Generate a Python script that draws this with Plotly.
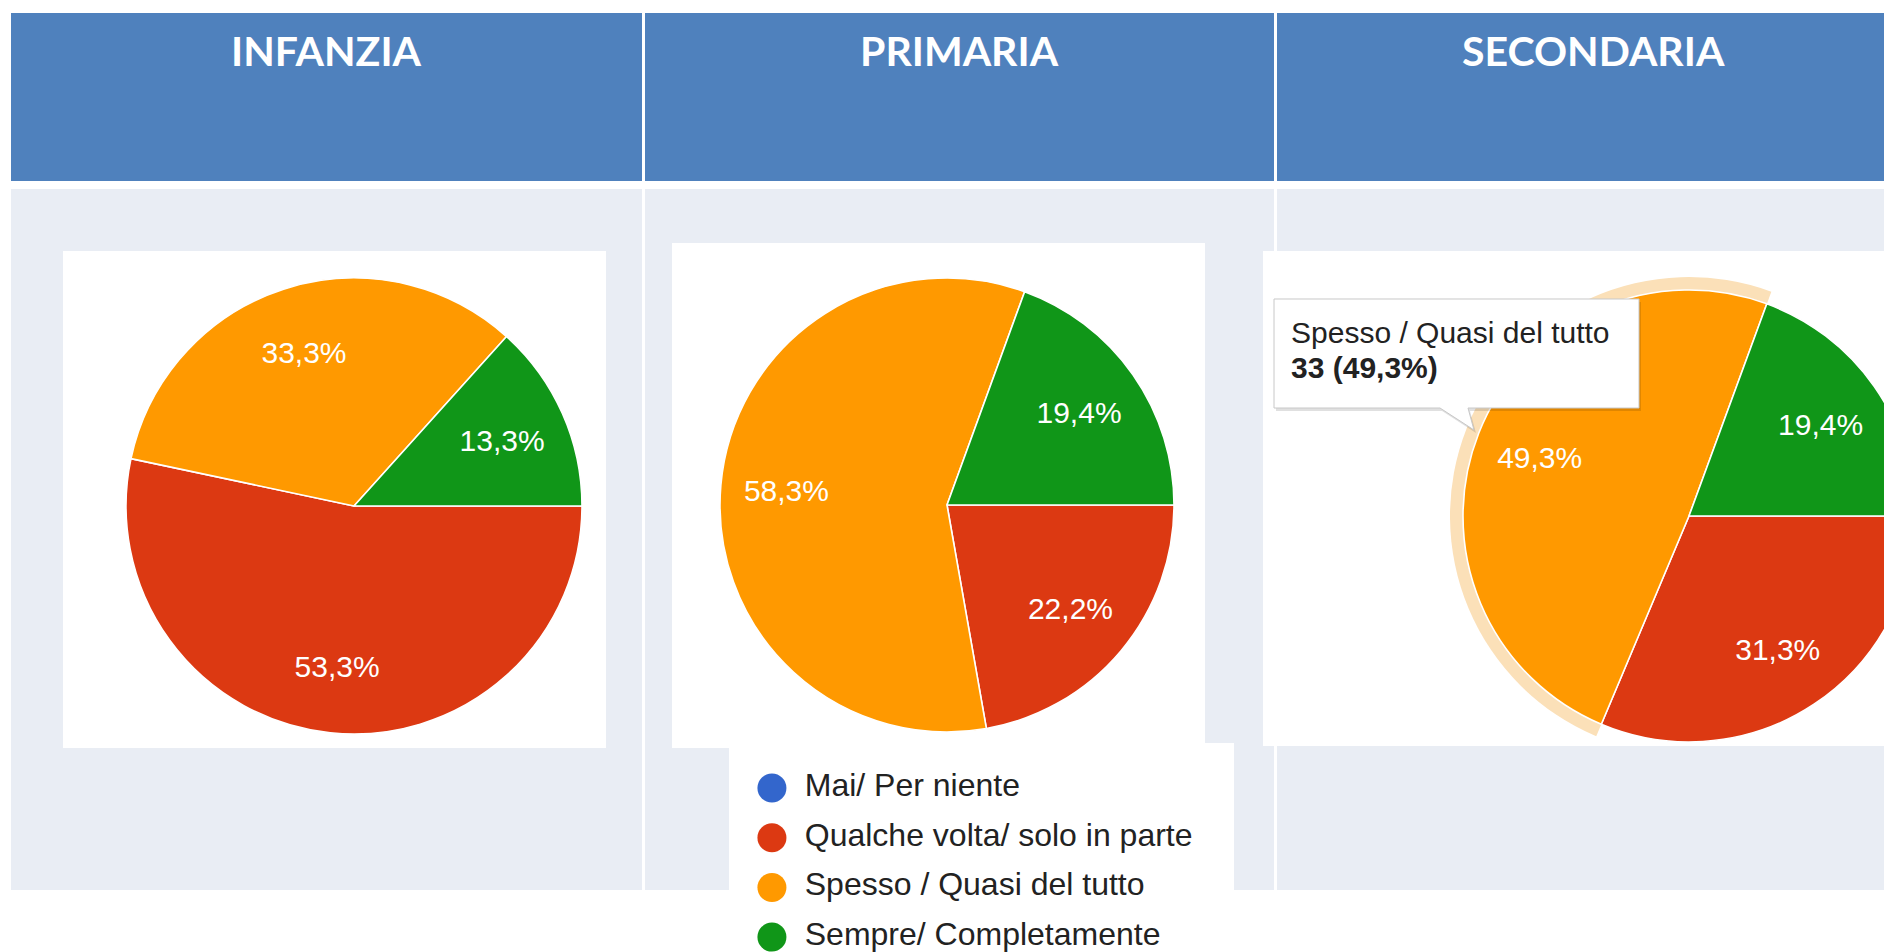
import plotly.graph_objects as go

# ---------------- data ----------------
categories = ["Mai/ Per niente", "Qualche volta/ solo in parte",
              "Spesso / Quasi del tutto", "Sempre/ Completamente"]
colors = ["#3366CC", "#DC3912", "#FF9900", "#109618"]
school_levels = ["INFANZIA", "PRIMARIA", "SECONDARIA"]
infanzia_counts = [0, 8, 5, 2]
primaria_counts = [0, 8, 21, 7]
secondaria_counts = [0, 21, 33, 13]
tooltip_category = "Spesso / Quasi del tutto"
tooltip_count = 33
tooltip_pct = "49,3%"

# ---------------- geometry helpers (window pixels -> paper) ----------------
# the page body has an 8px margin; the figure is a bit wider than the
# window so the right-most pie is cut by the window edge, as in the reference
OFF = 8
W, H = 1940, 952
def X(p): return (p - OFF) / W
def Y(p): return 1 - (p - OFF) / H

def rect(x0, y0, x1, y1, color):
    return dict(type="rect", xref="paper", yref="paper",
                x0=X(x0), x1=X(x1), y0=Y(y1), y1=Y(y0),
                fillcolor=color, line=dict(width=0), layer="below")

HEADER_BLUE = "#4F81BD"
BODY_BG = "#E9EDF4"
cols = [(11, 642), (645, 1274), (1277, 1950)]
shapes = []
for c0, c1 in cols:
    shapes.append(rect(c0, 13, c1, 181, HEADER_BLUE))
    shapes.append(rect(c0, 189, c1, 890, BODY_BG))
# white chart cards
shapes.append(rect(63, 251, 606, 748, "white"))
shapes.append(rect(672, 243, 1205, 748, "white"))
shapes.append(rect(1263, 251, 1950, 746, "white"))
shapes.append(rect(729, 743, 1234, 960, "white"))

def dom(cx, cy, r):
    return dict(x=[X(cx - r), X(cx + r)], y=[Y(cy + r), Y(cy - r)])

fig = go.Figure()

pies = [(infanzia_counts, (354, 506, 228)),
        (primaria_counts, (947, 505, 227)),
        (secondaria_counts, (1689, 516, 226))]
clear = ["rgba(0,0,0,0)"] * len(categories)

# highlight halo for the hovered slice in SECONDARIA
halo_colors = ["rgba(0,0,0,0)", "rgba(0,0,0,0)", "#FBE0B8", "rgba(0,0,0,0)"]
fig.add_trace(go.Pie(values=secondaria_counts, labels=categories, sort=False,
                     direction="clockwise", rotation=90, textinfo="none",
                     marker=dict(colors=halo_colors, line=dict(width=0)),
                     domain=dom(1689, 516, 239), showlegend=False, hoverinfo="skip"))

for vals, (cx, cy, r) in pies:
    fig.add_trace(go.Pie(values=vals, labels=categories, domain=dom(cx, cy, r),
                         sort=False, direction="clockwise", rotation=90, textinfo="none",
                         marker=dict(colors=colors, line=dict(color="white", width=1.6)),
                         showlegend=False, hoverinfo="skip"))
    # transparent ring that carries the percentage labels (places them ~0.7 R out)
    fig.add_trace(go.Pie(values=vals, labels=categories, domain=dom(cx, cy, r),
                         sort=False, direction="clockwise", rotation=90, hole=0.42,
                         texttemplate="%{percent:.1%}", textposition="inside",
                         insidetextorientation="horizontal",
                         textfont=dict(family="Arial, Liberation Sans", size=30, color="white"),
                         marker=dict(colors=clear, line=dict(width=0)),
                         showlegend=False, hoverinfo="skip"))

# legend drawn as a categorical scatter on hidden axes
fig.add_trace(go.Scatter(x=[0.085] * len(categories), y=categories, mode="markers",
                         marker=dict(size=29, color=colors, line=dict(width=0)),
                         xaxis="x", yaxis="y", showlegend=False, hoverinfo="skip"))
fig.add_trace(go.Scatter(x=[0.15] * len(categories), y=categories, mode="text",
                         text=categories, textposition="middle right",
                         textfont=dict(family="Arial, Liberation Sans", size=32, color="#222222"),
                         xaxis="x", yaxis="y", showlegend=False, hoverinfo="skip"))

# tooltip callout
bx0, by0, bx1, by1 = 1274, 299, 1639, 408
tip = (1474, 430)
def callout(dx=0, dy=0):
    pts = [(bx0, by0), (bx1, by0), (bx1, by1), (1468, by1), tip, (1440, by1), (bx0, by1)]
    return "M " + " L ".join(f"{X(px+dx):.5f},{Y(py+dy):.5f}" for px, py in pts) + " Z"
shapes.append(dict(type="path", xref="paper", yref="paper", path=callout(2, 3),
                   fillcolor="rgba(0,0,0,0.12)", line=dict(width=0), layer="above"))
shapes.append(dict(type="path", xref="paper", yref="paper", path=callout(),
                   fillcolor="white", line=dict(color="#C8C8C8", width=1), layer="above"))

annotations = []
for name, cxp in zip(school_levels, [326, 959, 1593]):
    annotations.append(dict(text=f"<b>{name}</b>", x=X(cxp), y=Y(51), xref="paper", yref="paper",
                            xanchor="center", yanchor="middle", showarrow=False,
                            font=dict(family="Lato, Open Sans, sans-serif", size=41, color="white")))
annotations.append(dict(text=tooltip_category, x=X(1289), y=Y(332), xref="paper", yref="paper",
                        xanchor="left", yanchor="middle", showarrow=False,
                        font=dict(family="Arial, Liberation Sans", size=30, color="#222222")))
annotations.append(dict(text=f"<b>{tooltip_count} ({tooltip_pct})</b>", x=X(1289), y=Y(367),
                        xref="paper", yref="paper", xanchor="left", yanchor="middle",
                        showarrow=False,
                        font=dict(family="Arial, Liberation Sans", size=30, color="#222222")))

# legend rows at window y 788 .. 937 (49.7 px apart)
row0, step = 788, 49.7
y_top_val = -(row0 - 743) / step
y_bot_val = 3 + (960 - (row0 + 3 * step)) / step

fig.update_layout(
    width=W, height=H, margin=dict(l=0, r=0, t=0, b=0),
    paper_bgcolor="white", plot_bgcolor="rgba(0,0,0,0)",
    separators=",.", hovermode=False, showlegend=False,
    shapes=shapes, annotations=annotations,
    xaxis=dict(domain=[X(729), X(1234)], range=[0, 1], visible=False, fixedrange=True),
    yaxis=dict(domain=[Y(960), Y(743)], range=[y_bot_val, y_top_val], visible=False,
               type="category", categoryorder="array", categoryarray=categories, fixedrange=True),
)

fig.write_html("out.html")
